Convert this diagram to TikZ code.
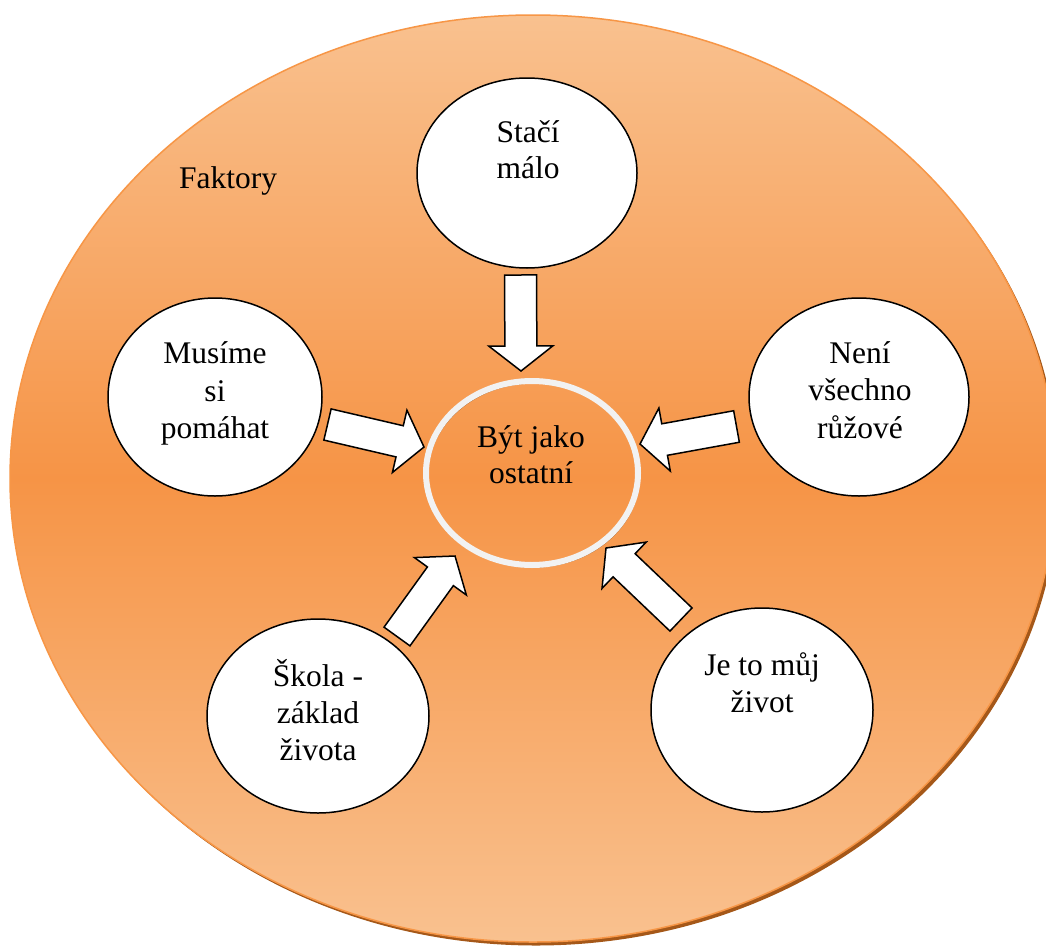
\documentclass[tikz,border=0pt]{standalone}
\usepackage{fontspec}
\setmainfont{Liberation Serif}
\newfontfamily\tnr{Liberation Serif}
\usetikzlibrary{calc,shapes.geometric}
\definecolor{oLight}{RGB}{249,193,143}
\definecolor{oDark}{RGB}{246,148,70}
\definecolor{oLine}{RGB}{247,150,70}
\definecolor{oShadow}{RGB}{165,88,25}
\definecolor{ringc}{RGB}{242,242,242}
\tikzset{
  bub/.style={draw=black, line width=1.5pt, fill=white},
  arr/.style={draw=black, line width=1.5pt, fill=white, line join=miter},
  txt/.style={inner sep=0pt, font=\tnr\fontsize{31.5}{37}\selectfont, anchor=base},
}
\newcommand\blockarr[2]{%
  \coordinate (hb) at ($(#2)!25pt!(#1)$);
  \draw[arr] ($(#1)!16pt!90:(#2)$) -- ($(hb)!16pt!90:(#2)$) -- ($(hb)!32pt!90:(#2)$) -- (#2)
    -- ($(hb)!32pt!-90:(#2)$) -- ($(hb)!16pt!-90:(#2)$) -- ($(#1)!16pt!-90:(#2)$) -- cycle;}
\begin{document}
\begin{tikzpicture}[x=1pt,y=-1pt]
\useasboundingbox (0,0) rectangle (1046,945);
\fill[white] (0,0) rectangle (1046,945);
\begin{scope}
\clip (0,0) rectangle (1046,945);
% outer big ellipse
\fill[oShadow] (536,482) ellipse [x radius=523pt, y radius=463.5pt];
\shade[top color=oLight, bottom color=oLight, middle color=oDark] (533,478.5) ellipse [x radius=523pt, y radius=463.5pt];
\draw[oLine, line width=1.5pt] (533,478.5) ellipse [x radius=523pt, y radius=463.5pt];
\end{scope}
\node[txt, anchor=base west] (fakt) at (179,188) {Faktory};
% central ellipse
\fill[oShadow!90!black, even odd rule] (534,475.5) ellipse [x radius=106pt, y radius=92pt] (532,473) ellipse [x radius=106pt, y radius=92pt];
\draw[ringc, line width=6pt] (532,473) ellipse [x radius=106pt, y radius=92pt];
\node[ellipse, minimum width=218pt, minimum height=190pt, inner sep=0pt] (cen) at (532,473) {};
\node[txt] (cen1) at (531,447) {Být jako};
\node[txt] (cen2) at (531,483) {ostatní};
% outer bubbles
\node[bub, ellipse, minimum width=220pt, minimum height=190pt, inner sep=0pt] (stac) at (527,173) {};
\node[txt] (stac1) at (528,142) {Stačí};
\node[txt] (stac2) at (528,178) {málo};
\node[bub, ellipse, minimum width=214pt, minimum height=198pt, inner sep=0pt] (mus) at (215,397) {};
\node[txt] (mus1) at (215,363) {Musíme};
\node[txt] (mus2) at (215,401) {si};
\node[txt] (mus3) at (215,438) {pomáhat};
\node[bub, ellipse, minimum width=220pt, minimum height=198pt, inner sep=0pt] (nen) at (859,397) {};
\node[txt] (nen1) at (860,363) {Není};
\node[txt] (nen2) at (860,400) {všechno};
\node[txt] (nen3) at (860,438) {růžové};
\node[bub, ellipse, minimum width=222pt, minimum height=194pt, inner sep=0pt] (sko) at (318,716) {};
\node[txt] (sko1) at (318,686) {Škola -};
\node[txt] (sko2) at (318,723) {základ};
\node[txt] (sko3) at (318,760) {života};
\node[bub, ellipse, minimum width=222pt, minimum height=204pt, inner sep=0pt] (jet) at (762,710) {};
\node[txt] (jet1) at (762,675) {Je to můj};
\node[txt] (jet2) at (762,712) {život};
% arrow end points
\coordinate (a1t) at (520.5,275); \coordinate (a1h) at (521,371);
\coordinate (a2t) at (327.5,424.5); \coordinate (a2h) at (424,447);
\coordinate (a3t) at (736.5,426.5); \coordinate (a3h) at (640,444);
\coordinate (a4t) at (397,636.5); \coordinate (a4h) at (455,556);
\coordinate (a5t) at (681,619.5); \coordinate (a5h) at (606,548);
\blockarr{a1t}{a1h}
\blockarr{a2t}{a2h}
\blockarr{a3t}{a3h}
\blockarr{a4t}{a4h}
\blockarr{a5t}{a5h}
\end{tikzpicture}
\end{document}
